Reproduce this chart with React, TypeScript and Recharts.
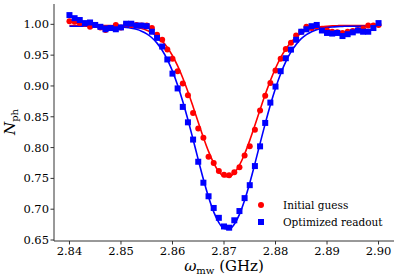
import React from 'react';
import { ComposedChart, Line, XAxis, YAxis } from 'recharts';

// microwave frequency (GHz)
const freqs = [
  2.840, 2.841, 2.842, 2.843, 2.844, 2.845, 2.846, 2.847, 2.848, 2.849,
  2.850, 2.851, 2.852, 2.853, 2.854, 2.855, 2.856, 2.857, 2.858, 2.859,
  2.860, 2.861, 2.862, 2.863, 2.864, 2.865, 2.866, 2.867, 2.868, 2.869,
  2.870, 2.871, 2.872, 2.873, 2.874, 2.875, 2.876, 2.877, 2.878, 2.879,
  2.880, 2.881, 2.882, 2.883, 2.884, 2.885, 2.886, 2.887, 2.888, 2.889,
  2.890, 2.891, 2.892, 2.893, 2.894, 2.895, 2.896, 2.897, 2.898, 2.899,
  2.900,
];

const initialGuess = [
  1.005, 1.004, 1.002, 1.001, 0.996, 0.999, 0.995, 0.991, 0.994, 0.999,
  0.995, 1.000, 0.999, 0.999, 0.998, 0.998, 0.994, 0.983, 0.975, 0.959,
  0.944, 0.924, 0.904, 0.885, 0.856, 0.831, 0.816, 0.785, 0.775, 0.762,
  0.756, 0.755, 0.760, 0.768, 0.787, 0.802, 0.829, 0.860, 0.884, 0.905,
  0.925, 0.944, 0.960, 0.970, 0.982, 0.988, 0.996, 0.994, 0.997, 0.993,
  0.990, 0.988, 0.987, 0.986, 0.988, 0.989, 0.991, 0.993, 0.998, 0.998,
  0.999,
];

const optimizedReadout = [
  1.015, 1.010, 1.007, 1.002, 1.003, 0.999, 0.996, 0.992, 0.994, 0.992,
  0.995, 1.001, 1.001, 0.998, 0.998, 0.997, 0.988, 0.978, 0.964, 0.943,
  0.920, 0.896, 0.866, 0.841, 0.813, 0.777, 0.743, 0.721, 0.702, 0.686,
  0.672, 0.670, 0.682, 0.697, 0.718, 0.739, 0.770, 0.802, 0.840, 0.873,
  0.899, 0.924, 0.945, 0.959, 0.975, 0.988, 0.992, 0.997, 0.999, 0.990,
  0.986, 0.985, 0.986, 0.981, 0.984, 0.987, 0.990, 0.988, 0.988, 0.994,
  1.002,
];

const initialFit = [
  0.998, 0.998, 0.998, 0.998, 0.998, 0.998, 0.998, 0.998, 0.998, 0.9977,
  0.9974, 0.9970, 0.9963, 0.9951, 0.9933, 0.9905, 0.9865, 0.9807, 0.9728, 0.9624,
  0.9490, 0.9325, 0.9130, 0.8907, 0.8664, 0.8412, 0.8165, 0.7938, 0.7748, 0.7609,
  0.7533, 0.7526, 0.7588, 0.7715, 0.7896, 0.8117, 0.8362, 0.8614, 0.8860, 0.9087,
  0.9288, 0.9460, 0.9600, 0.9710, 0.9794, 0.9855, 0.9898, 0.9928, 0.9948, 0.9961,
  0.9969, 0.9975, 0.9978, 0.998, 0.998, 0.998, 0.998, 0.998, 0.998, 0.998,
  0.998,
];

const optimizedFit = [
  0.997, 0.997, 0.997, 0.997, 0.997, 0.997, 0.997, 0.9969, 0.9967, 0.9964,
  0.9959, 0.9951, 0.9938, 0.9919, 0.9889, 0.9845, 0.9782, 0.9695, 0.9579, 0.9429,
  0.9241, 0.9013, 0.8749, 0.8451, 0.8132, 0.7805, 0.7486, 0.7197, 0.6956, 0.6782,
  0.6686, 0.6677, 0.6756, 0.6916, 0.7145, 0.7426, 0.7739, 0.8067, 0.8389, 0.8691,
  0.8963, 0.9198, 0.9394, 0.9552, 0.9674, 0.9767, 0.9834, 0.9881, 0.9914, 0.9935,
  0.9949, 0.9958, 0.9963, 0.9966, 0.997, 0.997, 0.997, 0.997, 0.997, 0.997,
  0.997,
];

const xTicks = [2.84, 2.85, 2.86, 2.87, 2.88, 2.89, 2.9];
const yTicks = [0.65, 0.7, 0.75, 0.8, 0.85, 0.9, 0.95, 1.0];

const data = freqs.map((f, i) => ({
  f,
  red: initialGuess[i],
  blue: optimizedReadout[i],
  redFit: initialFit[i],
  blueFit: optimizedFit[i],
}));

const RED = '#ff0000';
const BLUE = '#0000ff';
const AXIS = '#333';
const X_DOMAIN = [2.837, 2.903];
const Y_DOMAIN = [0.6484, 1.033];

const redDot = (p: any) => {
  if (p.cx == null || p.cy == null) return <g key={`r-${p.index}`} />;
  return <circle key={`r-${p.index}`} cx={p.cx} cy={p.cy} r={3} fill={RED} />;
};

const blueSquare = (p: any) => {
  if (p.cx == null || p.cy == null) return <g key={`b-${p.index}`} />;
  return <rect key={`b-${p.index}`} x={p.cx - 3} y={p.cy - 3} width={6} height={6} fill={BLUE} />;
};

const tickStyle = { fontSize: 11.5, fontFamily: 'DejaVu Serif', fill: '#000' };

const App: React.FC = () => {
  return (
    <div style={{ position: 'absolute', left: 0, top: 0, width: 399, height: 279, background: '#fff' }}>
      <ComposedChart width={399} height={279} data={data} margin={{ top: 4, right: 5, bottom: 0, left: 0 }}>
        <XAxis
          dataKey="f"
          type="number"
          domain={X_DOMAIN}
          ticks={xTicks}
          tickFormatter={(v: number) => v.toFixed(2)}
          allowDataOverflow
          height={38}
          stroke={AXIS}
          tickSize={3.5}
          tickMargin={2}
          tick={tickStyle}
        />
        <XAxis
          xAxisId="top"
          orientation="top"
          type="number"
          domain={X_DOMAIN}
          height={0}
          tick={false}
          tickLine={false}
          stroke={AXIS}
        />
        <YAxis
          type="number"
          domain={Y_DOMAIN}
          ticks={yTicks}
          tickFormatter={(v: number) => v.toFixed(2)}
          allowDataOverflow
          width={54}
          stroke={AXIS}
          tickSize={3.5}
          tickMargin={1.5}
          tick={tickStyle}
        />
        <YAxis
          yAxisId="right"
          orientation="right"
          type="number"
          domain={Y_DOMAIN}
          width={0}
          tick={false}
          tickLine={false}
          stroke={AXIS}
        />
        <Line dataKey="red" stroke="none" dot={redDot} activeDot={false} isAnimationActive={false} />
        <Line dataKey="redFit" type="monotone" stroke={RED} strokeWidth={1.6} dot={false} activeDot={false} isAnimationActive={false} />
        <Line dataKey="blue" stroke="none" dot={blueSquare} activeDot={false} isAnimationActive={false} />
        <Line dataKey="blueFit" type="monotone" stroke={BLUE} strokeWidth={1.6} dot={false} activeDot={false} isAnimationActive={false} />
      </ComposedChart>
      <svg
        width={399}
        height={279}
        style={{ position: 'absolute', left: 0, top: 0, pointerEvents: 'none' }}
      >
        <text x={224} y={271} textAnchor="middle" fontFamily="DejaVu Serif" fontSize={15} fill="#000">
          <tspan fontStyle="italic">ω</tspan>
          <tspan fontSize={10} dy={3}>mw</tspan>
          <tspan dy={-3}> (GHz)</tspan>
        </text>
        <text transform="translate(15,122) rotate(-90)" textAnchor="middle" fontFamily="DejaVu Serif" fontSize={15} fill="#000">
          <tspan fontStyle="italic">N</tspan>
          <tspan fontSize={10} dy={3}>ph</tspan>
        </text>
        <circle cx={261} cy={205} r={3} fill={RED} />
        <rect x={258} y={219} width={6} height={6} fill={BLUE} />
        <text x={283} y={209} fontFamily="DejaVu Serif" fontSize={10.5} fill="#000">Initial guess</text>
        <text x={283} y={226} fontFamily="DejaVu Serif" fontSize={10.5} fill="#000">Optimized readout</text>
      </svg>
    </div>
  );
};

export default App;
